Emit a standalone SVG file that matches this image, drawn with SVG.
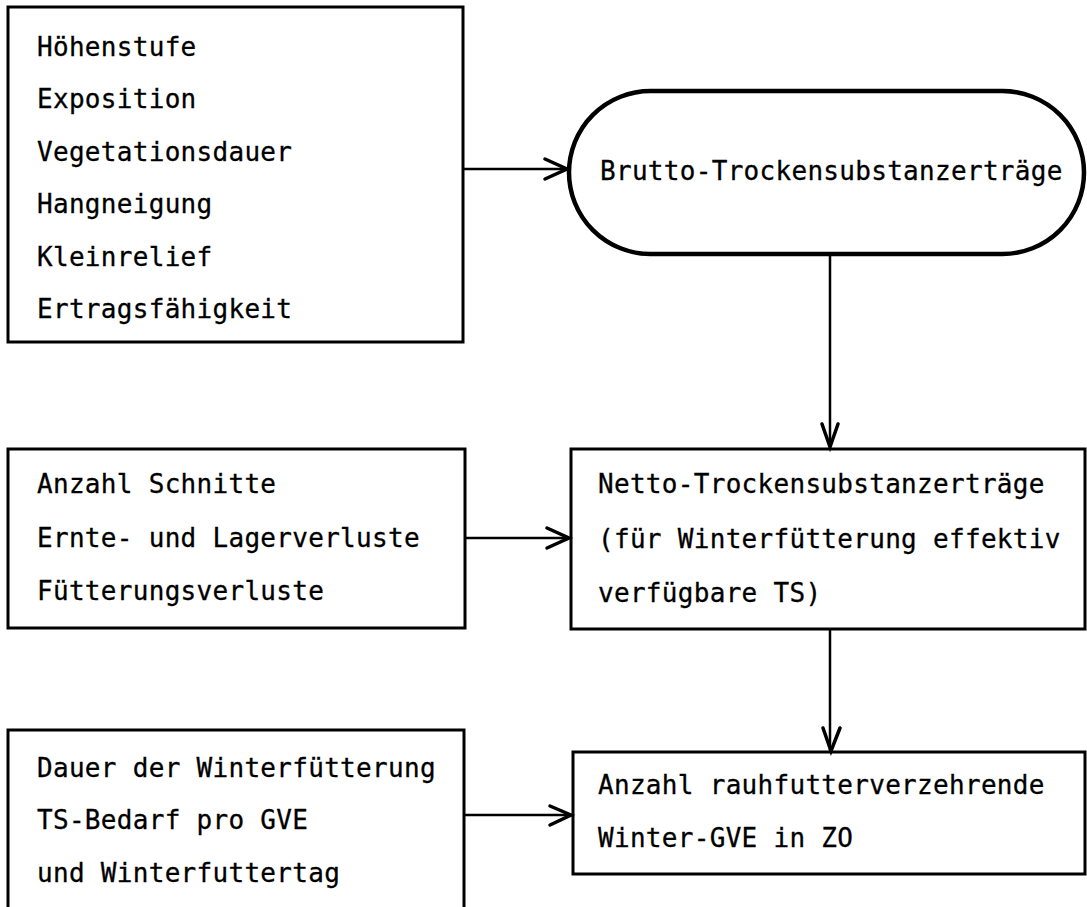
<svg xmlns="http://www.w3.org/2000/svg" width="1087" height="907" viewBox="0 0 1087 907">
  <style>
    .box { fill: none; stroke: #000; stroke-width: 3; }
    .term { fill: none; stroke: #000; stroke-width: 4.5; }
    .lbl { font-family: "DejaVu Sans Mono", "Liberation Mono", monospace; font-size: 26px; letter-spacing: 0.3px; fill: #000; stroke: #000; stroke-width: 0.3; }
    .link { fill: none; stroke: #000; stroke-width: 2.5; }
    .head { fill: none; stroke: #000; stroke-width: 3.5; stroke-linejoin: miter; stroke-linecap: round; }
  </style>
  <rect width="1087" height="907" fill="#fff"/>

  <!-- site factors -->
  <g id="standortfaktoren">
    <rect class="box" x="8" y="7" width="455" height="335"/>
    <text class="lbl" x="37" y="56">Höhenstufe</text>
    <text class="lbl" x="37" y="108">Exposition</text>
    <text class="lbl" x="37" y="161">Vegetationsdauer</text>
    <text class="lbl" x="37" y="213">Hangneigung</text>
    <text class="lbl" x="37" y="266">Kleinrelief</text>
    <text class="lbl" x="37" y="318">Ertragsfähigkeit</text>
  </g>

  <!-- gross dry matter yield -->
  <g id="brutto">
    <rect class="term" x="569" y="91" width="515" height="163" rx="81.5" ry="81.5"/>
    <text class="lbl" x="600" y="180">Brutto-Trockensubstanzerträge</text>
  </g>

  <!-- losses -->
  <g id="verluste">
    <rect class="box" x="8" y="449" width="457" height="179"/>
    <text class="lbl" x="37" y="493">Anzahl Schnitte</text>
    <text class="lbl" x="37" y="547">Ernte- und Lagerverluste</text>
    <text class="lbl" x="37" y="600">Fütterungsverluste</text>
  </g>

  <!-- net dry matter yield -->
  <g id="netto">
    <rect class="box" x="571" y="449" width="514" height="180"/>
    <text class="lbl" x="598" y="493">Netto-Trockensubstanzerträge</text>
    <text class="lbl" x="598" y="548">(für Winterfütterung effektiv</text>
    <text class="lbl" x="598" y="602">verfügbare TS)</text>
  </g>

  <!-- winter feeding demand -->
  <g id="bedarf">
    <rect class="box" x="8" y="730" width="456" height="190"/>
    <text class="lbl" x="37" y="777">Dauer der Winterfütterung</text>
    <text class="lbl" x="37" y="829">TS-Bedarf pro GVE</text>
    <text class="lbl" x="37" y="882">und Winterfuttertag</text>
  </g>

  <!-- resulting livestock units -->
  <g id="gve">
    <rect class="box" x="573" y="752" width="512" height="122"/>
    <text class="lbl" x="598" y="794">Anzahl rauhfutterverzehrende</text>
    <text class="lbl" x="598" y="847">Winter-GVE in ZO</text>
  </g>

  <!-- connectors -->
  <g id="connectors">
    <path class="link" d="M463 169 H566"/>
    <path class="head" d="M545 159 L567 169 L545 179"/>

    <path class="link" d="M830 254 V446"/>
    <path class="head" d="M822 424 L830 447 L838 424"/>

    <path class="link" d="M465 538 H568"/>
    <path class="head" d="M547 528 L569 538 L547 548"/>

    <path class="link" d="M830 629 V750"/>
    <path class="head" d="M823 728 L831 751 L840 728"/>

    <path class="link" d="M464 815 H570"/>
    <path class="head" d="M550 806 L571 815 L550 825"/>
  </g>
</svg>
